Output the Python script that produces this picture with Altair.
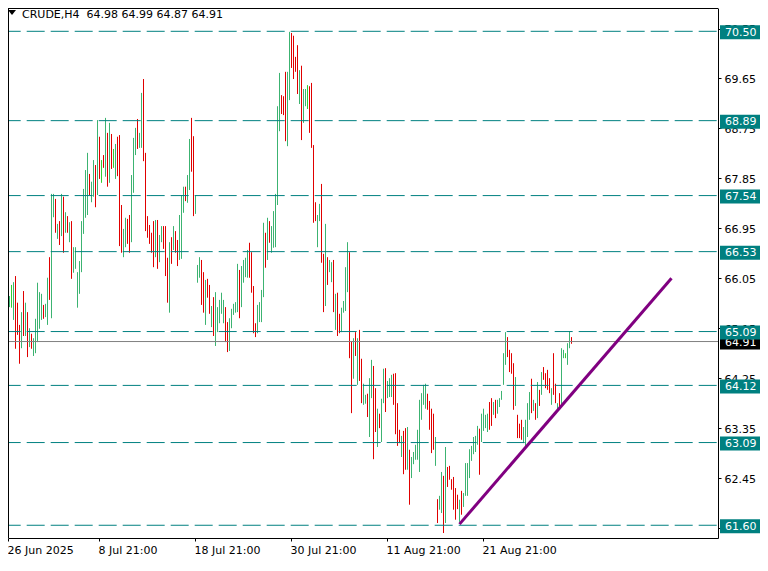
import altair as alt
import pandas as pd

# ---- chart values (H4 bars, oldest first) ----
high = [
    66.42, 65.53, 65.66, 65.73, 65.93, 65.98, 66.09, 65.61, 65.21, 65.44,
    65.82, 65.61, 65.44, 65.15, 65.05, 64.97, 65.32, 65.97, 65.80, 65.77,
    65.57, 65.59, 66.06, 66.43, 67.57, 67.57, 67.48, 67.03, 67.08, 67.57,
    67.52, 67.24, 67.17, 67.06, 67.08, 66.61, 66.61, 66.16, 66.36, 67.08,
    67.66, 68.00, 68.31, 67.93, 67.79, 68.18, 68.09, 68.90, 68.60, 68.18,
    68.27, 68.94, 68.67, 68.85, 68.65, 68.38, 68.47, 68.60, 68.63, 67.37,
    66.94, 67.14, 67.12, 67.19, 67.91, 68.58, 68.76, 68.92, 68.67, 69.39,
    69.64, 68.31, 67.17, 67.01, 66.87, 67.08, 67.10, 67.10, 66.83, 66.99,
    66.99, 66.99, 66.42, 66.70, 66.79, 66.99, 66.90, 66.74, 67.19, 67.55,
    67.70, 67.70, 67.91, 68.56, 68.94, 68.61, 67.55, 66.29, 66.43, 66.38,
    66.16, 66.02, 66.04, 65.93, 65.55, 65.71, 65.80, 65.53, 65.66, 65.79,
    65.66, 65.53, 65.26, 65.33, 65.50, 65.59, 65.62, 66.31, 66.20, 66.27,
    66.38, 66.42, 66.56, 66.69, 66.52, 65.91, 65.24, 65.57, 65.62, 65.84,
    67.05, 66.87, 67.14, 67.08, 66.99, 67.26, 67.57, 69.15, 69.75, 69.35,
    69.33, 69.77, 69.77, 70.49, 70.47, 70.42, 70.04, 70.25, 69.80, 69.88,
    69.46, 69.46, 69.53, 69.51, 69.57, 68.45, 67.42, 67.19, 67.39, 67.75,
    66.49, 67.03, 66.43, 66.38, 66.34, 66.38, 65.77, 65.79, 65.41, 65.52,
    65.64, 66.25, 66.70, 66.52, 64.92, 64.97, 65.08, 64.97, 65.12, 64.60,
    64.15, 63.95, 63.97, 64.25, 64.58, 64.47, 64.07, 63.70, 63.61, 63.88,
    64.42, 64.43, 64.20, 64.25, 64.31, 64.33, 64.34, 63.80, 63.32, 63.21,
    63.30, 63.35, 63.37, 62.96, 62.83, 62.92, 63.05, 63.32, 63.86, 63.98,
    64.13, 64.15, 63.97, 63.84, 63.70, 63.61, 63.19, 62.07, 62.13, 62.56,
    62.49, 63.01, 62.65, 62.67, 62.43, 62.47, 62.27, 62.15, 62.06, 62.22,
    62.18, 62.72, 62.72, 62.97, 63.03, 63.19, 63.21, 63.39, 63.34, 63.61,
    63.70, 63.59, 63.61, 63.82, 63.89, 63.82, 63.86, 63.86, 63.89, 64.02,
    64.70, 65.08, 64.99, 64.76, 64.70, 64.52, 64.27, 63.59, 63.43, 63.50,
    63.37, 63.50, 63.80, 64.00, 64.24, 63.86, 63.80, 64.18, 64.04, 64.36,
    64.45, 64.34, 64.40, 64.25, 64.07, 64.70, 64.15, 63.80, 63.98, 64.79,
    64.76, 64.70, 64.88, 65.10, 64.99,
]
low = [
    65.35, 64.97, 65.30, 65.53, 65.52, 65.30, 64.78, 65.03, 64.51, 64.79,
    65.01, 65.01, 64.63, 64.81, 64.78, 64.65, 64.70, 64.90, 65.14, 65.30,
    65.32, 65.35, 65.21, 65.66, 65.33, 67.15, 66.87, 66.76, 66.65, 66.81,
    66.51, 66.87, 66.87, 66.70, 66.04, 66.15, 66.22, 65.52, 65.77, 66.16,
    66.85, 67.14, 67.19, 67.55, 67.42, 67.52, 67.33, 67.55, 67.84, 67.77,
    68.04, 67.88, 67.70, 67.77, 68.02, 68.04, 67.84, 67.89, 66.63, 66.51,
    66.43, 66.61, 66.67, 66.51, 66.70, 67.59, 68.27, 68.38, 68.40, 68.40,
    68.16, 66.90, 66.78, 66.67, 66.51, 66.25, 66.43, 66.22, 66.34, 66.70,
    66.58, 66.09, 65.61, 65.43, 66.31, 66.56, 66.51, 66.27, 66.38, 66.40,
    67.23, 67.44, 67.41, 67.64, 67.97, 67.17, 67.21, 65.97, 66.06, 65.57,
    65.43, 65.21, 65.70, 65.41, 65.17, 65.01, 64.83, 65.08, 65.24, 65.41,
    65.24, 64.90, 64.72, 64.74, 65.15, 65.39, 65.43, 65.44, 65.33, 65.53,
    65.97, 66.07, 66.06, 66.06, 65.79, 65.06, 64.99, 65.06, 65.26, 65.26,
    65.71, 66.24, 66.38, 66.69, 66.51, 66.60, 66.61, 67.37, 68.70, 69.01,
    68.99, 68.52, 68.43, 69.26, 69.84, 69.64, 69.77, 69.37, 69.19, 68.54,
    68.85, 69.15, 69.10, 68.67, 68.40, 67.05, 67.08, 66.61, 67.08, 66.33,
    65.44, 65.55, 65.93, 66.16, 65.98, 65.44, 65.12, 65.01, 65.06, 65.08,
    65.43, 65.46, 65.80, 64.61, 63.62, 64.24, 64.65, 64.13, 64.20, 63.80,
    63.77, 63.79, 63.55, 63.19, 63.89, 62.79, 63.28, 63.01, 63.35, 63.10,
    63.80, 63.64, 63.89, 63.91, 63.91, 63.77, 63.24, 63.03, 63.08, 62.83,
    62.52, 62.60, 62.60, 61.97, 62.45, 62.70, 62.78, 62.78, 62.56, 63.50,
    63.77, 63.70, 63.68, 63.32, 62.90, 62.96, 62.67, 61.64, 61.88, 61.82,
    61.46, 61.64, 62.29, 62.42, 62.24, 61.88, 61.70, 61.89, 61.66, 61.79,
    61.93, 62.13, 62.13, 62.45, 62.76, 62.88, 62.92, 63.05, 62.51, 63.10,
    63.30, 63.35, 63.28, 63.32, 63.39, 63.59, 63.53, 63.61, 63.73, 63.86,
    64.13, 64.49, 64.63, 64.36, 64.33, 63.68, 63.75, 63.17, 63.17, 63.14,
    63.08, 63.01, 63.19, 63.50, 63.62, 63.66, 63.50, 63.53, 63.75, 63.95,
    64.22, 64.07, 64.04, 63.98, 63.77, 63.95, 63.80, 63.64, 63.68, 63.77,
    64.61, 64.61, 64.49, 64.79, 64.87,
]
# G = up bar, R = down bar, L = unchanged bar
direction = (
    "GRGGLGRRRG" "RGRGRGGGGG" "RGGRGGRGRG" "RGRGRGGGGG" "GGGRGGRGRL"
    "RGRGRLGRRR" "GGRRGGGRGG" "RRRRRRGRGG" "RRRGRGRRGG" "GRGGRRGGGR"
    "RGRRGRGGGG" "GRRGGGGGRG" "GGGRRRRGGG" "GRGRGGGGGR" "RRGGRRRRGR"
    "GGLRRRRGGR" "RGRGGRGRRG" "GGGRRGRGRR" "GGRGGRRGRG" "GRGGGRRRRG"
    "RRGRGGGGGG" "GGRRRRGRGG" "RGRRRRRRGR" "GGGGGGGGRG" "GGGRRGRGGG"
    "GGRRRRGRRR" "GGGGRGRGRG" "RRRRGRRGRG" "GLGGR"
)

symbol = "CRUDE,H4"
last_ohlc = [64.98, 64.99, 64.87, 64.91]
levels = [70.50, 68.89, 67.54, 66.53, 65.09, 64.12, 63.09, 61.60]
last_price = 64.91
trend_idx = [228.25, 334.25]
trend_price = [61.62, 66.05]
price_ticks = [70.55, 69.65, 68.75, 67.85, 66.95, 66.05, 65.15, 64.25, 63.35, 62.45, 61.55]
time_tick_idx = [0, 48, 96, 144, 192, 240]
time_tick_lab = ["26 Jun 2025", "8 Jul 21:00", "18 Jul 21:00", "30 Jul 21:00",
                 "11 Aug 21:00", "21 Aug 21:00"]

# ---- styling / layout ----
FONT = "DejaVu Sans"
TEAL = "#008080"
W, H = 710, 530
x_domain = [2.5, 357.5]
y_domain = [61.3703, 70.9198]

names = {"G": "up", "R": "down", "L": "flat"}
bars_df = pd.DataFrame({
    "idx": list(range(len(high))),
    "high": high,
    "low": low,
    "dir": [names[c] for c in direction],
})
levels_df = pd.DataFrame({"level": levels})
last_df = pd.DataFrame({"level": [last_price]})
trend_df = pd.DataFrame({"idx": trend_idx, "price": trend_price})
one = pd.DataFrame({"a": [0]})

xscale = alt.Scale(domain=x_domain, nice=False, zero=False)
yscale = alt.Scale(domain=y_domain, nice=False, zero=False)

tick_vals = [max(v, x_domain[0]) for v in time_tick_idx]
label_expr = "[" + ",".join("'%s'" % s for s in time_tick_lab) + "][indexof([" + \
    ",".join(str(v) for v in tick_vals) + "], datum.value)]"

x_axis = alt.Axis(orient="bottom", values=tick_vals, labelExpr=label_expr, grid=False,
                  domainColor="black", tickColor="black", tickSize=3,
                  labelAlign="left", labelBaseline="top", labelPadding=3.5,
                  labelFont=FONT, labelFontSize=11, labelColor="black",
                  labelOverlap=False, labelFlush=False, labelOffset=-1, title=None)
y_axis = alt.Axis(orient="right", values=price_ticks, format=".2f", grid=False,
                  domainColor="black", tickColor="black", tickSize=3,
                  labelPadding=3, labelFont=FONT, labelFontSize=11, labelColor="black",
                  labelOverlap=False, labelFlush=False, labelOffset=1, title=None)

bars = alt.Chart(bars_df).mark_rule(strokeWidth=1, clip=True, xOffset=0.5).encode(
    x=alt.X("idx:Q", scale=xscale, axis=x_axis, title=None),
    y=alt.Y("low:Q", scale=yscale, axis=y_axis, title=None),
    y2="high:Q",
    color=alt.Color("dir:N", legend=None,
                    scale=alt.Scale(domain=["up", "down", "flat"],
                                    range=["#3CB371", "#E00000", "#32CD32"])),
)

price_line = alt.Chart(last_df).mark_rule(color="#808080", strokeWidth=1).encode(
    x=alt.value(0), x2=alt.value(W),
    y=alt.Y("level:Q", scale=yscale, title=None),
)

level_lines = alt.Chart(levels_df).mark_rule(
    color=TEAL, strokeWidth=1, strokeDash=[18, 6], strokeDashOffset=5.3
).encode(
    x=alt.value(0), x2=alt.value(W),
    y=alt.Y("level:Q", scale=yscale, title=None),
)

trend = alt.Chart(trend_df).mark_line(color="#800080", strokeWidth=3, clip=True).encode(
    x=alt.X("idx:Q", scale=xscale, title=None),
    y=alt.Y("price:Q", scale=yscale, title=None),
)

frame_left = alt.Chart(one).mark_rule(color="black", strokeWidth=1).encode(
    x=alt.value(0.5), y=alt.value(0), y2=alt.value(H))
frame_top = alt.Chart(one).mark_rule(color="black", strokeWidth=1).encode(
    x=alt.value(0), x2=alt.value(W), y=alt.value(0.5))

BOX_X0, BOX_X1, TXT_X = 712, 752, 717

last_box = alt.Chart(last_df).mark_rule(color="black", strokeWidth=14, yOffset=1).encode(
    x=alt.value(BOX_X0), x2=alt.value(BOX_X1),
    y=alt.Y("level:Q", scale=yscale, title=None))
last_txt = alt.Chart(last_df).mark_text(
    align="left", baseline="middle", dy=1.5, font=FONT, fontSize=11, color="white"
).encode(x=alt.value(TXT_X), y=alt.Y("level:Q", scale=yscale, title=None),
         text=alt.Text("level:Q", format=".2f"))

lvl_box = alt.Chart(levels_df).mark_rule(color=TEAL, strokeWidth=14, yOffset=1).encode(
    x=alt.value(BOX_X0), x2=alt.value(BOX_X1),
    y=alt.Y("level:Q", scale=yscale, title=None))
lvl_txt = alt.Chart(levels_df).mark_text(
    align="left", baseline="middle", dy=1.5, font=FONT, fontSize=11, color="white"
).encode(x=alt.value(TXT_X), y=alt.Y("level:Q", scale=yscale, title=None),
         text=alt.Text("level:Q", format=".2f"))

tri = alt.Chart(one).mark_point(shape="M -1 -0.6 L 1 -0.6 L 0 0.6 Z", size=64,
                                filled=True, color="black", opacity=1).encode(
    x=alt.value(4), y=alt.value(4.5))
title_txt = symbol + "\u00a0\u00a0" + " ".join("%.2f" % v for v in last_ohlc)
title = alt.Chart(one).mark_text(align="left", baseline="alphabetic", font=FONT,
                                 fontSize=11, color="black").encode(
    x=alt.value(14), y=alt.value(9.5), text=alt.value(title_txt))

chart = alt.layer(
    bars, price_line, level_lines, trend, frame_left, frame_top,
    last_box, last_txt, lvl_box, lvl_txt, tri, title,
).properties(
    width=W, height=H,
    padding={"left": 0, "top": 0, "right": 42, "bottom": 20},
    autosize=alt.AutoSizeParams(type="none"),
    background="white",
).configure_view(stroke=None)

chart.save("out.html", embed_options={"renderer": "svg", "actions": False})
